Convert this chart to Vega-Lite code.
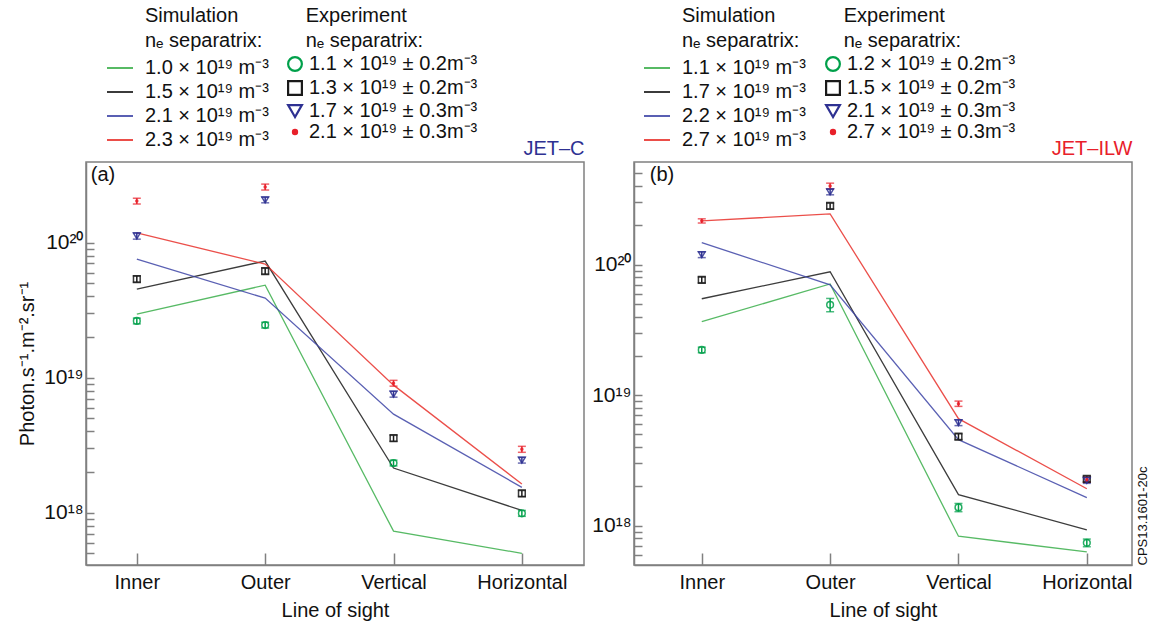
{
  "$schema": "https://vega.github.io/schema/vega-lite/v6.json",
  "padding": {"left": 16, "top": 5, "right": 2, "bottom": 4},
  "config": {
    "font": "Liberation Sans",
    "view": {"stroke": "#808080", "strokeWidth": 1.5},
    "axis": {"domainColor": "#808080", "domainWidth": 1.5, "tickColor": "#808080", "tickWidth": 1.5, "labelColor": "#111111", "titleColor": "#111111", "labelFontSize": 20, "titleFontSize": 20, "titleFontWeight": "normal", "grid": false, "labelFont": "Liberation Sans", "titleFont": "Liberation Sans"},
    "legend": {"labelFontSize": 20, "titleFontSize": 20, "titleFontWeight": "normal", "labelFont": "Liberation Sans", "titleFont": "Liberation Sans", "labelColor": "#111111", "titleColor": "#111111", "titleLineHeight": 25, "rowPadding": 0, "titlePadding": 3, "labelLimit": 400, "titleLimit": 400}
  },
  "datasets": {
    "simA": [
      {"los": "Inner", "sim": "1.0 × 10¹⁹ m⁻³", "v": 2.95e19}, {"los": "Outer", "sim": "1.0 × 10¹⁹ m⁻³", "v": 4.84e19}, {"los": "Vertical", "sim": "1.0 × 10¹⁹ m⁻³", "v": 7.3e17}, {"los": "Horizontal", "sim": "1.0 × 10¹⁹ m⁻³", "v": 5.0e17},
      {"los": "Inner", "sim": "1.5 × 10¹⁹ m⁻³", "v": 4.53e19}, {"los": "Outer", "sim": "1.5 × 10¹⁹ m⁻³", "v": 7.3e19}, {"los": "Vertical", "sim": "1.5 × 10¹⁹ m⁻³", "v": 2.14e18}, {"los": "Horizontal", "sim": "1.5 × 10¹⁹ m⁻³", "v": 1.04e18},
      {"los": "Inner", "sim": "2.1 × 10¹⁹ m⁻³", "v": 7.55e19}, {"los": "Outer", "sim": "2.1 × 10¹⁹ m⁻³", "v": 3.88e19}, {"los": "Vertical", "sim": "2.1 × 10¹⁹ m⁻³", "v": 5.37e18}, {"los": "Horizontal", "sim": "2.1 × 10¹⁹ m⁻³", "v": 1.54e18},
      {"los": "Inner", "sim": "2.3 × 10¹⁹ m⁻³", "v": 1.18e20}, {"los": "Outer", "sim": "2.3 × 10¹⁹ m⁻³", "v": 6.93e19}, {"los": "Vertical", "sim": "2.3 × 10¹⁹ m⁻³", "v": 8.8e18}, {"los": "Horizontal", "sim": "2.3 × 10¹⁹ m⁻³", "v": 1.63e18}
    ],
    "expA": [
      {"los": "Inner", "exp": "1.1 × 10¹⁹ ± 0.2m⁻³", "v": 2.63e19, "lo": 2.5e19, "hi": 2.76e19},
      {"los": "Outer", "exp": "1.1 × 10¹⁹ ± 0.2m⁻³", "v": 2.45e19, "lo": 2.33e19, "hi": 2.57e19},
      {"los": "Vertical", "exp": "1.1 × 10¹⁹ ± 0.2m⁻³", "v": 2.33e18, "lo": 2.22e18, "hi": 2.45e18},
      {"los": "Horizontal", "exp": "1.1 × 10¹⁹ ± 0.2m⁻³", "v": 9.9e17, "lo": 9.4e17, "hi": 1.04e18},
      {"los": "Inner", "exp": "1.3 × 10¹⁹ ± 0.2m⁻³", "v": 5.37e19, "lo": 5.1e19, "hi": 5.65e19},
      {"los": "Outer", "exp": "1.3 × 10¹⁹ ± 0.2m⁻³", "v": 6.15e19, "lo": 5.85e19, "hi": 6.45e19},
      {"los": "Vertical", "exp": "1.3 × 10¹⁹ ± 0.2m⁻³", "v": 3.56e18, "lo": 3.38e18, "hi": 3.74e18},
      {"los": "Horizontal", "exp": "1.3 × 10¹⁹ ± 0.2m⁻³", "v": 1.39e18, "lo": 1.32e18, "hi": 1.46e18},
      {"los": "Inner", "exp": "1.7 × 10¹⁹ ± 0.3m⁻³", "v": 1.12e20, "lo": 1.06e20, "hi": 1.18e20},
      {"los": "Outer", "exp": "1.7 × 10¹⁹ ± 0.3m⁻³", "v": 2.07e20, "lo": 1.97e20, "hi": 2.17e20},
      {"los": "Vertical", "exp": "1.7 × 10¹⁹ ± 0.3m⁻³", "v": 7.55e18, "lo": 7.17e18, "hi": 7.93e18},
      {"los": "Horizontal", "exp": "1.7 × 10¹⁹ ± 0.3m⁻³", "v": 2.45e18, "lo": 2.33e18, "hi": 2.57e18},
      {"los": "Inner", "exp": "2.1 × 10¹⁹ ± 0.3m⁻³", "v": 2.03e20, "lo": 1.93e20, "hi": 2.13e20},
      {"los": "Outer", "exp": "2.1 × 10¹⁹ ± 0.3m⁻³", "v": 2.58e20, "lo": 2.45e20, "hi": 2.71e20},
      {"los": "Vertical", "exp": "2.1 × 10¹⁹ ± 0.3m⁻³", "v": 9.1e18, "lo": 8.65e18, "hi": 9.55e18},
      {"los": "Horizontal", "exp": "2.1 × 10¹⁹ ± 0.3m⁻³", "v": 2.95e18, "lo": 2.8e18, "hi": 3.1e18}
    ],
    "simB": [
      {"los": "Inner", "sim": "1.1 × 10¹⁹ m⁻³", "v": 3.65e19}, {"los": "Outer", "sim": "1.1 × 10¹⁹ m⁻³", "v": 7.1e19}, {"los": "Vertical", "sim": "1.1 × 10¹⁹ m⁻³", "v": 8.3e17}, {"los": "Horizontal", "sim": "1.1 × 10¹⁹ m⁻³", "v": 6.3e17},
      {"los": "Inner", "sim": "1.7 × 10¹⁹ m⁻³", "v": 5.47e19}, {"los": "Outer", "sim": "1.7 × 10¹⁹ m⁻³", "v": 8.8e19}, {"los": "Vertical", "sim": "1.7 × 10¹⁹ m⁻³", "v": 1.73e18}, {"los": "Horizontal", "sim": "1.7 × 10¹⁹ m⁻³", "v": 9.3e17},
      {"los": "Inner", "sim": "2.2 × 10¹⁹ m⁻³", "v": 1.47e20}, {"los": "Outer", "sim": "2.2 × 10¹⁹ m⁻³", "v": 7.0e19}, {"los": "Vertical", "sim": "2.2 × 10¹⁹ m⁻³", "v": 4.56e18}, {"los": "Horizontal", "sim": "2.2 × 10¹⁹ m⁻³", "v": 1.64e18},
      {"los": "Inner", "sim": "2.7 × 10¹⁹ m⁻³", "v": 2.16e20}, {"los": "Outer", "sim": "2.7 × 10¹⁹ m⁻³", "v": 2.44e20}, {"los": "Vertical", "sim": "2.7 × 10¹⁹ m⁻³", "v": 6.6e18}, {"los": "Horizontal", "sim": "2.7 × 10¹⁹ m⁻³", "v": 1.92e18}
    ],
    "expB": [
      {"los": "Inner", "exp": "1.2 × 10¹⁹ ± 0.2m⁻³", "v": 2.22e19, "lo": 2.11e19, "hi": 2.33e19},
      {"los": "Outer", "exp": "1.2 × 10¹⁹ ± 0.2m⁻³", "v": 4.92e19, "lo": 4.35e19, "hi": 5.5e19},
      {"los": "Vertical", "exp": "1.2 × 10¹⁹ ± 0.2m⁻³", "v": 1.38e18, "lo": 1.28e18, "hi": 1.48e18},
      {"los": "Horizontal", "exp": "1.2 × 10¹⁹ ± 0.2m⁻³", "v": 7.4e17, "lo": 6.9e17, "hi": 7.9e17},
      {"los": "Inner", "exp": "1.5 × 10¹⁹ ± 0.2m⁻³", "v": 7.64e19, "lo": 7.26e19, "hi": 8.02e19},
      {"los": "Outer", "exp": "1.5 × 10¹⁹ ± 0.2m⁻³", "v": 2.81e20, "lo": 2.67e20, "hi": 2.95e20},
      {"los": "Vertical", "exp": "1.5 × 10¹⁹ ± 0.2m⁻³", "v": 4.81e18, "lo": 4.57e18, "hi": 5.05e18},
      {"los": "Horizontal", "exp": "1.5 × 10¹⁹ ± 0.2m⁻³", "v": 2.28e18, "lo": 2.17e18, "hi": 2.39e18},
      {"los": "Inner", "exp": "2.1 × 10¹⁹ ± 0.3m⁻³", "v": 1.19e20, "lo": 1.13e20, "hi": 1.25e20},
      {"los": "Outer", "exp": "2.1 × 10¹⁹ ± 0.3m⁻³", "v": 3.6e20, "lo": 3.42e20, "hi": 3.78e20},
      {"los": "Vertical", "exp": "2.1 × 10¹⁹ ± 0.3m⁻³", "v": 6.15e18, "lo": 5.84e18, "hi": 6.46e18},
      {"los": "Horizontal", "exp": "2.1 × 10¹⁹ ± 0.3m⁻³", "v": 2.22e18, "lo": 2.11e18, "hi": 2.33e18},
      {"los": "Inner", "exp": "2.7 × 10¹⁹ ± 0.3m⁻³", "v": 2.16e20, "lo": 2.08e20, "hi": 2.24e20},
      {"los": "Outer", "exp": "2.7 × 10¹⁹ ± 0.3m⁻³", "v": 4.0e20, "lo": 3.8e20, "hi": 4.2e20},
      {"los": "Vertical", "exp": "2.7 × 10¹⁹ ± 0.3m⁻³", "v": 8.6e18, "lo": 8.2e18, "hi": 9.0e18},
      {"los": "Horizontal", "exp": "2.7 × 10¹⁹ ± 0.3m⁻³", "v": 2.25e18, "lo": 2.15e18, "hi": 2.35e18}
    ],
    "tagA": [{"tag": "(a)"}],
    "tagB": [{"tag": "(b)"}]
  },
  "spacing": 5,
  "resolve": {"scale": {"x": "independent", "y": "independent", "color": "independent", "stroke": "independent", "shape": "independent", "fill": "independent"}},
  "hconcat": [
    {
      "width": 498,
      "height": 403,
      "resolve": {"axis": {"x": "independent", "y": "independent"}, "legend": {"color": "independent", "shape": "independent", "fill": "independent"}},
      "layer": [
        {
          "data": {"name": "simA"},
          "mark": {"type": "line", "strokeWidth": 1.3, "opacity": 0.85},
          "encoding": {
            "x": {"field": "los", "type": "nominal", "sort": ["Inner", "Outer", "Vertical", "Horizontal"], "scale": {"type": "point", "padding": 0.44, "align": 0.45}, "axis": {"orient": "bottom", "title": "Line of sight", "labelAngle": 0, "tickSize": -12, "labelPadding": 19, "titlePadding": 8}},
            "y": {"field": "v", "type": "quantitative", "scale": {"type": "log", "domain": [4.1e17, 3.95e20], "nice": false}, "axis": {"orient": "left", "title": "Photon.s⁻¹.m⁻².sr⁻¹", "values": [5e17, 6e17, 7e17, 8e17, 9e17, 1e18, 2e18, 3e18, 4e18, 5e18, 6e18, 7e18, 8e18, 9e18, 1e19, 2e19, 3e19, 4e19, 5e19, 6e19, 7e19, 8e19, 9e19, 1e20], "labelExpr": "abs(log(datum.value)/LN10 - round(log(datum.value)/LN10)) < 0.001 ? (round(log(datum.value)/LN10) == 18 ? '10¹⁸' : round(log(datum.value)/LN10) == 19 ? '10¹⁹' : round(log(datum.value)/LN10) == 20 ? '10²⁰' : '') : ''", "tickSize": -8, "labelPadding": 11, "labelFontSize": 21, "titlePadding": 6}},
            "stroke": {"field": "sim", "type": "nominal", "scale": {"domain": ["1.0 × 10¹⁹ m⁻³", "1.5 × 10¹⁹ m⁻³", "2.1 × 10¹⁹ m⁻³", "2.3 × 10¹⁹ m⁻³"], "range": ["#3aae4a", "#1a1a1a", "#3d44a6", "#e8302a"]}, "legend": {"orient": "none", "legendX": 20, "legendY": -156, "title": ["\u200b\u00a0\u00a0\u00a0\u00a0\u00a0\u00a0\u00a0Simulation", "\u200b\u00a0\u00a0\u00a0\u00a0\u00a0\u00a0\u00a0nₑ separatrix:"], "symbolType": "stroke", "symbolSize": 676, "symbolStrokeWidth": 2, "labelOffset": 11}}
          }
        },
        {
          "data": {"name": "expA"},
          "mark": {"type": "errorbar", "thickness": 1.5, "ticks": {"size": 8, "thickness": 1.5}},
          "encoding": {
            "x": {"field": "los", "type": "nominal", "sort": ["Inner", "Outer", "Vertical", "Horizontal"], "axis": null},
            "y": {"field": "lo", "type": "quantitative", "axis": null},
            "y2": {"field": "hi"},
            "color": {"field": "exp", "type": "nominal", "legend": null}
          }
        },
        {
          "data": {"name": "expA"},
          "mark": {"type": "point", "filled": false, "size": 45, "strokeWidth": 1.5, "opacity": 0.85},
          "encoding": {
            "x": {"field": "los", "type": "nominal", "sort": ["Inner", "Outer", "Vertical", "Horizontal"], "axis": {"orient": "top", "title": "JET–C", "labels": false, "ticks": false, "domain": false, "titleAnchor": "end", "titleColor": "#2e3192", "titlePadding": 4}},
            "y": {"field": "v", "type": "quantitative", "axis": null},
            "color": {"field": "exp", "type": "nominal", "scale": {"domain": ["1.1 × 10¹⁹ ± 0.2m⁻³", "1.3 × 10¹⁹ ± 0.2m⁻³", "1.7 × 10¹⁹ ± 0.3m⁻³", "2.1 × 10¹⁹ ± 0.3m⁻³"], "range": ["#00a04a", "#1a1a1a", "#2e3192", "#e8202a"]}, "legend": {"orient": "none", "legendX": 199, "legendY": -156, "title": ["\u200b\u00a0\u00a0\u00a0\u2009Experiment", "\u200b\u00a0\u00a0\u00a0\u2009nₑ separatrix:"], "symbolSize": 190, "symbolStrokeWidth": 2.2, "symbolOpacity": 1, "labelOffset": 4}},
            "shape": {"field": "exp", "type": "nominal", "scale": {"domain": ["1.1 × 10¹⁹ ± 0.2m⁻³", "1.3 × 10¹⁹ ± 0.2m⁻³", "1.7 × 10¹⁹ ± 0.3m⁻³", "2.1 × 10¹⁹ ± 0.3m⁻³"], "range": ["circle", "square", "triangle-down", "M-0.3,0A0.3,0.3,0,1,1,0.3,0A0.3,0.3,0,1,1,-0.3,0Z"]}, "legend": {"orient": "none", "legendX": 199, "legendY": -156, "title": ["\u200b\u00a0\u00a0\u00a0\u2009Experiment", "\u200b\u00a0\u00a0\u00a0\u2009nₑ separatrix:"]}},
            "fill": {"field": "exp", "type": "nominal", "scale": {"domain": ["1.1 × 10¹⁹ ± 0.2m⁻³", "1.3 × 10¹⁹ ± 0.2m⁻³", "1.7 × 10¹⁹ ± 0.3m⁻³", "2.1 × 10¹⁹ ± 0.3m⁻³"], "range": ["transparent", "transparent", "transparent", "#e8202a"]}, "legend": {"orient": "none", "legendX": 199, "legendY": -156, "title": ["\u200b\u00a0\u00a0\u00a0\u2009Experiment", "\u200b\u00a0\u00a0\u00a0\u2009nₑ separatrix:"]}}
          }
        },
        {
          "data": {"name": "tagA"},
          "mark": {"type": "text", "align": "left", "baseline": "middle", "dx": -46, "fontSize": 20, "color": "#111111"},
          "encoding": {
            "x": {"datum": "Inner", "type": "nominal", "axis": null},
            "y": {"datum": 3.16e20, "type": "quantitative", "axis": null},
            "text": {"field": "tag"}
          }
        }
      ]
    },
    {
      "width": 498,
      "height": 403,
      "resolve": {"axis": {"x": "independent", "y": "independent"}, "legend": {"color": "independent", "shape": "independent", "fill": "independent"}},
      "layer": [
        {
          "data": {"name": "simB"},
          "mark": {"type": "line", "strokeWidth": 1.3, "opacity": 0.85},
          "encoding": {
            "x": {"field": "los", "type": "nominal", "sort": ["Inner", "Outer", "Vertical", "Horizontal"], "scale": {"type": "point", "padding": 0.44, "align": 0.6}, "axis": {"orient": "bottom", "title": "Line of sight", "labelAngle": 0, "tickSize": -12, "labelPadding": 19, "titlePadding": 8}},
            "y": {"field": "v", "type": "quantitative", "scale": {"type": "log", "domain": [5e17, 6.1e20], "nice": false}, "axis": {"orient": "left", "title": null, "values": [6e17, 7e17, 8e17, 9e17, 1e18, 2e18, 3e18, 4e18, 5e18, 6e18, 7e18, 8e18, 9e18, 1e19, 2e19, 3e19, 4e19, 5e19, 6e19, 7e19, 8e19, 9e19, 1e20, 2e20, 3e20, 4e20, 5e20], "labelExpr": "abs(log(datum.value)/LN10 - round(log(datum.value)/LN10)) < 0.001 ? (round(log(datum.value)/LN10) == 18 ? '10¹⁸' : round(log(datum.value)/LN10) == 19 ? '10¹⁹' : round(log(datum.value)/LN10) == 20 ? '10²⁰' : '') : ''", "tickSize": -8, "labelPadding": 11, "labelFontSize": 21}},
            "stroke": {"field": "sim", "type": "nominal", "scale": {"domain": ["1.1 × 10¹⁹ m⁻³", "1.7 × 10¹⁹ m⁻³", "2.2 × 10¹⁹ m⁻³", "2.7 × 10¹⁹ m⁻³"], "range": ["#3aae4a", "#1a1a1a", "#3d44a6", "#e8302a"]}, "legend": {"orient": "none", "legendX": 9, "legendY": -156, "title": ["\u200b\u00a0\u00a0\u00a0\u00a0\u00a0\u00a0\u00a0Simulation", "\u200b\u00a0\u00a0\u00a0\u00a0\u00a0\u00a0\u00a0nₑ separatrix:"], "symbolType": "stroke", "symbolSize": 676, "symbolStrokeWidth": 2, "labelOffset": 11}}
          }
        },
        {
          "data": {"name": "expB"},
          "mark": {"type": "errorbar", "thickness": 1.5, "ticks": {"size": 8, "thickness": 1.5}},
          "encoding": {
            "x": {"field": "los", "type": "nominal", "sort": ["Inner", "Outer", "Vertical", "Horizontal"], "axis": null},
            "y": {"field": "lo", "type": "quantitative", "axis": null},
            "y2": {"field": "hi"},
            "color": {"field": "exp", "type": "nominal", "legend": null}
          }
        },
        {
          "data": {"name": "expB"},
          "mark": {"type": "point", "filled": false, "size": 45, "strokeWidth": 1.5, "opacity": 0.85},
          "encoding": {
            "x": {"field": "los", "type": "nominal", "sort": ["Inner", "Outer", "Vertical", "Horizontal"], "axis": {"orient": "top", "title": "JET–ILW", "labels": false, "ticks": false, "domain": false, "titleAnchor": "end", "titleColor": "#e8202a", "titlePadding": 4}},
            "y": {"field": "v", "type": "quantitative", "axis": {"orient": "right", "title": "CPS13.1601-20c", "labels": false, "ticks": false, "domain": false, "minExtent": 0, "titleFontSize": 13, "titleAngle": 270, "titleAnchor": "start", "titleAlign": "left", "titleBaseline": "top", "titlePadding": 4}},
            "color": {"field": "exp", "type": "nominal", "scale": {"domain": ["1.2 × 10¹⁹ ± 0.2m⁻³", "1.5 × 10¹⁹ ± 0.2m⁻³", "2.1 × 10¹⁹ ± 0.3m⁻³", "2.7 × 10¹⁹ ± 0.3m⁻³"], "range": ["#00a04a", "#1a1a1a", "#2e3192", "#e8202a"]}, "legend": {"orient": "none", "legendX": 189, "legendY": -156, "title": ["\u200b\u00a0\u00a0\u00a0\u2009Experiment", "\u200b\u00a0\u00a0\u00a0\u2009nₑ separatrix:"], "symbolSize": 190, "symbolStrokeWidth": 2.2, "symbolOpacity": 1, "labelOffset": 4}},
            "shape": {"field": "exp", "type": "nominal", "scale": {"domain": ["1.2 × 10¹⁹ ± 0.2m⁻³", "1.5 × 10¹⁹ ± 0.2m⁻³", "2.1 × 10¹⁹ ± 0.3m⁻³", "2.7 × 10¹⁹ ± 0.3m⁻³"], "range": ["circle", "square", "triangle-down", "M-0.3,0A0.3,0.3,0,1,1,0.3,0A0.3,0.3,0,1,1,-0.3,0Z"]}, "legend": {"orient": "none", "legendX": 189, "legendY": -156, "title": ["\u200b\u00a0\u00a0\u00a0\u2009Experiment", "\u200b\u00a0\u00a0\u00a0\u2009nₑ separatrix:"]}},
            "fill": {"field": "exp", "type": "nominal", "scale": {"domain": ["1.2 × 10¹⁹ ± 0.2m⁻³", "1.5 × 10¹⁹ ± 0.2m⁻³", "2.1 × 10¹⁹ ± 0.3m⁻³", "2.7 × 10¹⁹ ± 0.3m⁻³"], "range": ["transparent", "transparent", "transparent", "#e8202a"]}, "legend": {"orient": "none", "legendX": 189, "legendY": -156, "title": ["\u200b\u00a0\u00a0\u00a0\u2009Experiment", "\u200b\u00a0\u00a0\u00a0\u2009nₑ separatrix:"]}}
          }
        },
        {
          "data": {"name": "tagB"},
          "mark": {"type": "text", "align": "left", "baseline": "middle", "dx": -52, "fontSize": 20, "color": "#111111"},
          "encoding": {
            "x": {"datum": "Inner", "type": "nominal", "axis": null},
            "y": {"datum": 4.86e20, "type": "quantitative", "axis": null},
            "text": {"field": "tag"}
          }
        }
      ]
    }
  ]
}
